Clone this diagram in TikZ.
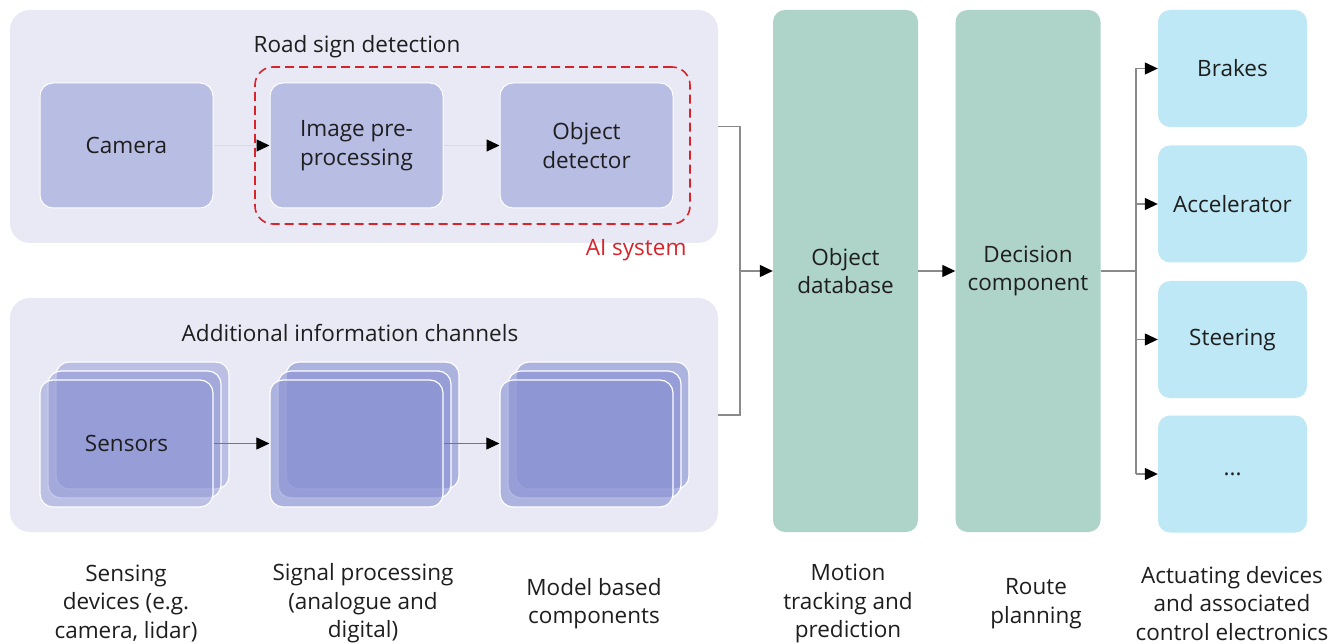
\documentclass[tikz,border=0pt]{standalone}
\usepackage{fontspec}
\setmainfont{Open Sans}
\usetikzlibrary{arrows.meta}

\definecolor{grpbg}{HTML}{E8E9F5}
\definecolor{blkc}{HTML}{B8BDE4}
\definecolor{stkc}{HTML}{8A92D3}
\definecolor{greenc}{HTML}{AED3C8}
\definecolor{bluec}{HTML}{BEE8F5}
\definecolor{aired}{HTML}{D9232B}
\definecolor{txt}{HTML}{1E1E1E}
\definecolor{faintline}{HTML}{D8D9E6}
\definecolor{midline}{HTML}{767676}
\definecolor{mainline}{HTML}{8A8A8A}

\tikzset{
  grp/.style={rectangle, rounded corners=20pt, fill=grpbg, inner sep=0pt,
    minimum width=708pt, minimum height=233pt},
  blk/.style={rectangle, rounded corners=13pt, fill=blkc, draw=white, line width=1pt,
    minimum width=173pt, minimum height=125pt, align=center, text=txt, inner sep=0pt},
  stk/.style={rectangle, rounded corners=13pt, fill=stkc, draw=white, line width=1.2pt,
    minimum width=173pt, minimum height=127pt, align=center, text=txt, inner sep=0pt},
  tall/.style={rectangle, rounded corners=12pt, fill=greenc, inner sep=0pt,
    minimum width=145pt, minimum height=522pt, align=center, text=txt},
  act/.style={rectangle, rounded corners=12pt, fill=bluec, inner sep=0pt,
    minimum width=149pt, minimum height=117pt, align=center, text=txt},
  aibox/.style={rectangle, rounded corners=18pt, draw=aired, line width=1.6pt,
    dash pattern=on 9pt off 5pt, inner sep=0pt},
  tip/.style={-{Triangle[length=13pt,width=12pt,color=black]}},
  faintarr/.style={tip, draw=faintline, line width=1.3pt},
  midarr/.style={tip, draw=midline, line width=1pt},
  mainln/.style={draw=mainline, line width=1.3pt},
  caption/.style={align=center, text=txt},
}

% three stacked layers; the front one carries the name and the text
\newcommand\layerstack[5]{%
  \node[stk, fill opacity=#4] (#1c) at ({#2+16},{#3-18}) {};
  \node[stk, fill opacity=#4] (#1b) at ({#2+8},{#3-9}) {};
  \node[stk, fill opacity=#4, text opacity=1] (#1) at (#2,#3) {#5};
}

\begin{document}
\begin{tikzpicture}[x=1pt, y=-1pt, font=\fontsize{22.5}{28.5}\selectfont]
\useasboundingbox[fill=white] (0,0) rectangle (1341,644);

% road sign detection group
\node[grp] (topgrp) at (364,126.5) {};
\node[text=txt] (toptitle) at (357,47) {Road sign detection};
\node[blk] (camera) at (126.5,145.5) {Camera};
\node[blk] (prep) at (356.5,145.5) {Image pre-\\processing};
\node[blk] (detect) at (586.5,145.5) {Object\\detector};
\node[aibox, minimum width=435pt, minimum height=157pt] (ai) at (472.5,145.5) {};
\node[text=aired, anchor=east] (ailabel) at (690,250) {AI system};

\draw[faintarr] (camera) -- (prep);
\draw[faintarr] (prep) -- (detect);

% additional information channels group
\node[grp, minimum height=234pt] (botgrp) at (364,415) {};
\node[text=txt] (bottitle) at (350,333) {Additional information channels};
\layerstack{sensors}{126.5}{443.5}{0.48}{Sensors}
\layerstack{signal}{356.5}{443.5}{0.62}{}
\layerstack{model}{586.5}{443.5}{0.62}{}

\draw[midarr] (sensors.east) -- (signal.west);
\draw[midarr] (signal.east) -- (model.west);

% motion tracking and route planning
\node[tall] (objdb) at (845.5,271) {Object\\database};
\node[tall] (decision) at (1028,271) {Decision\\component};

% merge of both groups into the object database
\coordinate (mergeT) at (740,126.5);
\coordinate (mergeB) at (740,415);
\coordinate (mergeM) at (740,271);
\draw[mainln] (topgrp.east) -- (mergeT) -- (mergeB) -- (botgrp.east);
\draw[mainln, tip] (mergeM) -- (objdb.west);
\draw[mainln, tip] (objdb.east) -- (decision.west);

% actuators
\node[act] (brakes) at (1232.5,68.5) {Brakes};
\node[act] (accel) at (1232.5,204) {Accelerator};
\node[act] (steer) at (1232.5,339.5) {Steering};
\node[act] (more) at (1232.5,474) {...};

\coordinate (trunkM) at (1136,271);
\draw[mainln] (decision.east) -- (trunkM);
\draw[mainln] (brakes.west -| trunkM) -- (more.west -| trunkM);
\foreach \a in {brakes,accel,steer,more}
  \draw[mainln, tip] (\a.west -| trunkM) -- (\a.west);

% column captions
\node[caption] (c1) at (126,603.5) {Sensing\\devices (e.g.\\camera, lidar)};
\node[caption] (c2) at (363,603.5) {Signal processing\\(analogue and\\digital)};
\node[caption] (c3) at (594,603.5) {Model based\\components};
\node[caption] (c4) at (848,603.5) {Motion\\tracking and\\prediction};
\node[caption] (c5) at (1036,603.5) {Route\\planning};
\node[caption] (c6) at (1232,603.5) {Actuating devices\\and associated\\control electronics};
\end{tikzpicture}
\end{document}
